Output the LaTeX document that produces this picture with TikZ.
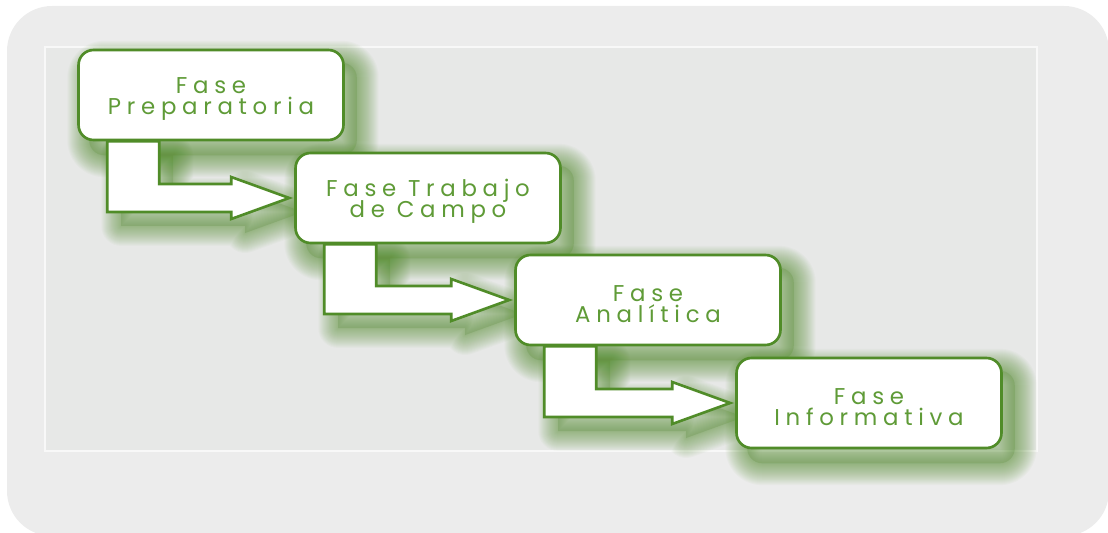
\documentclass[tikz,border=0pt]{standalone}
\usepackage{tikz}
\usepackage{fontspec}
\usetikzlibrary{calc,backgrounds}
\newfontfamily\fasefont[LetterSpace=25]{Poppins}
\definecolor{fasegreen}{RGB}{80,140,40}
\definecolor{fasetext}{RGB}{95,155,55}
\definecolor{outerbg}{RGB}{236,236,236}
\definecolor{innerbg}{RGB}{231,232,231}
\setlength{\lineskiplimit}{-6pt}
\pgfdeclarelayer{glow}
\pgfdeclarelayer{flecha}
\pgfsetlayers{background,glow,flecha,main}
\tikzset{
  fase/.style={draw=fasegreen, line width=1.5pt, fill=white, rounded corners=0.3cm,
    minimum width=5.3cm, minimum height=1.8cm, align=center, text=fasetext,
    text height=25.7pt, font=\fasefont\fontsize{13}{12}\selectfont},
  flechabody/.style={draw=fasegreen, line width=1.5pt, fill=white, line join=miter},
  glowline/.style={draw=fasegreen, opacity=0.03, line join=round}
}
% bent arrow from box #1 to box #2, everything moved by #3 pixels
\newcommand{\flechapath}[3]{($(#1.south west)+(30+#3,#3)$) |- ($(#2.west)+(-63+#3,14+#3)$)
  -- ++(0,7) -- ($(#2.west)+(-5+#3,#3)$) -- ($(#2.west)+(-63+#3,-21+#3)$) -- ++(0,7)
  -| ($(#1.south west)+(82+#3,#3)$) -- cycle}

\begin{document}
\begin{tikzpicture}[x=0.02cm,y=-0.02cm]
    \useasboundingbox (0,0) rectangle (1108,533);

    % Boxes of the four phases
    \node[fase] (p1) at (211,95) {Fase\\Preparatoria};
    \node[fase] (p2) at (428,198) {Fase Trabajo\\de Campo};
    \node[fase] (p3) at (648,300) {Fase\\Analítica};
    \node[fase] (p4) at (869,403) {Fase\\Informativa};

    % Grey panel behind
    \begin{pgfonlayer}{background}
        \fill[outerbg, rounded corners=0.9cm] (7,6) rectangle (1109,536);
        \fill[innerbg] (45,47) rectangle (1037,451);
        \draw[white!70!innerbg, line width=1pt] (45,47) rectangle (1037,451);
    \end{pgfonlayer}

    % Green glow below boxes and arrows
    \begin{pgfonlayer}{glow}
        \foreach \b in {p1,p2,p3,p4} {
            \fill[fasegreen, opacity=0.2, rounded corners=0.3cm]
                ([shift={(12,14)}]\b.north west) rectangle ([shift={(12,14)}]\b.south east);
            \foreach \w in {2,4,...,44} {
                \draw[glowline, line width=\w*0.567pt, rounded corners=0.3cm]
                    ([shift={(12,14)}]\b.north west) rectangle ([shift={(12,14)}]\b.south east);
            }
        }
        \foreach \a/\b in {p1/p2,p2/p3,p3/p4} {
            \fill[fasegreen, opacity=0.2] \flechapath{\a}{\b}{14};
            \foreach \w in {2,4,...,40} {
                \draw[glowline, line width=\w*0.567pt] \flechapath{\a}{\b}{14};
            }
        }
    \end{pgfonlayer}

    % Arrows between phases
    \begin{pgfonlayer}{flecha}
        \foreach \a/\b in {p1/p2,p2/p3,p3/p4} {
            \draw[flechabody] \flechapath{\a}{\b}{0};
        }
    \end{pgfonlayer}
\end{tikzpicture}
\end{document}
